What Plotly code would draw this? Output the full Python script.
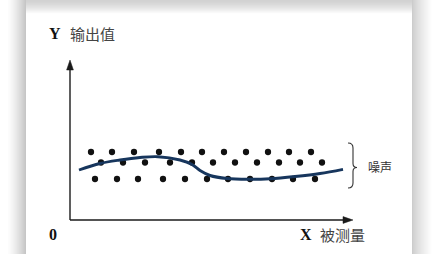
import plotly.graph_objects as go

# ---- data (measurand on x, sensor output on y; origin at the axes corner) ----
row_top_x = [21, 42, 64, 89, 111, 132, 154, 176, 198, 219, 241]
row_top_y = [68, 68, 68, 68, 68, 68, 68, 68, 68, 68, 68]
row_mid_x = [31, 53, 75, 100, 122, 143, 165, 187, 209, 230, 252]
row_mid_y = [57.5, 57.5, 57.5, 57.5, 57.5, 57.5, 57.5, 57.5, 57.5, 57.5, 57.5]
row_bot_x = [25, 47, 68, 93, 115, 137, 158, 180, 202, 223, 245]
row_bot_y = [41, 41, 41, 41, 41, 41, 41, 41, 41, 41, 41]

curve_x = [9, 30, 50, 70, 88, 110, 122, 130, 140, 157, 180, 200, 225, 250, 273]
curve_y = [50, 56.5, 60, 62.5, 63.3, 60, 55.5, 49.5, 44.5, 41.5, 40.8, 41.3, 43.5, 46.5, 50.7]

x_axis_end = 283
y_axis_end = 160

W, H = 444, 254
X_RANGE = [-70, 374]
Y_RANGE = [-34, 220]

fig = go.Figure()

# noisy readings
all_x = row_top_x + row_mid_x + row_bot_x
all_y = row_top_y + row_mid_y + row_bot_y
fig.add_trace(go.Scatter(
    x=all_x, y=all_y, mode="markers",
    marker=dict(size=6.3, color="#111111"),
    hoverinfo="skip", showlegend=False,
))

# underlying response curve
fig.add_trace(go.Scatter(
    x=curve_x, y=curve_y, mode="lines",
    line=dict(color="#17365d", width=2.9, shape="spline", smoothing=1.0),
    hoverinfo="skip", showlegend=False,
))

shapes = []


def px_rect(x0, y0, x1, y1, level):
    c = f"rgb({level},{level},{level})"
    return dict(type="rect", xref="paper", yref="paper",
                x0=x0 / W, x1=x1 / W, y0=1 - y1 / H, y1=1 - y0 / H,
                line=dict(width=0), fillcolor=c, layer="below")


# soft drop shadow around the white card
for i in range(14):
    py = i
    lvl = int(round(210 + (254 - 210) * (i / 13) ** 1.4))
    shapes.append(px_rect(16, py, 420, py + 1, lvl))
for i in range(18):
    px = 8 + i
    lvl = int(round(252 - (252 - 198) * (i / 17) ** 1.3))
    shapes.append(px_rect(px, 0, px + 1, H, lvl))
for i in range(20):
    px = 412 + i
    lvl = int(round(204 + (254 - 204) * (i / 19) ** 0.8))
    shapes.append(px_rect(px, 0, px + 1, H, lvl))

# axes lines
axis_col = "#1a1a1a"
shapes.append(dict(type="line", xref="x", yref="y", x0=0, y0=0, x1=x_axis_end - 8, y1=0,
                   line=dict(color=axis_col, width=1.4)))
shapes.append(dict(type="line", xref="x", yref="y", x0=0, y0=0, x1=0, y1=y_axis_end - 8,
                   line=dict(color=axis_col, width=1.4)))
# arrowheads
ah_len, ah_half = 10, 3.4
shapes.append(dict(type="path", xref="x", yref="y",
                   path=f"M {x_axis_end},0 L {x_axis_end - ah_len},{ah_half} L {x_axis_end - ah_len},{-ah_half} Z",
                   fillcolor=axis_col, line=dict(color=axis_col, width=0.5)))
shapes.append(dict(type="path", xref="x", yref="y",
                   path=f"M 0,{y_axis_end} L {ah_half},{y_axis_end - ah_len} L {-ah_half},{y_axis_end - ah_len} Z",
                   fillcolor=axis_col, line=dict(color=axis_col, width=0.5)))

# curly brace marking the noise band
band_top = max(row_top_y) + 9
band_bot = min(row_bot_y) - 9
band_mid = (band_top + band_bot) / 2 - 2
bx0, bx1, btip = 278, 283, 287
brace = (f"M {bx0},{band_top} Q {bx1},{band_top} {bx1},{band_top - 5} "
         f"L {bx1},{band_mid + 4} Q {bx1},{band_mid} {btip},{band_mid} "
         f"Q {bx1},{band_mid} {bx1},{band_mid - 4} "
         f"L {bx1},{band_bot + 5} Q {bx1},{band_bot} {bx0},{band_bot}")
shapes.append(dict(type="path", xref="x", yref="y", path=brace,
                   line=dict(color="#333333", width=1.1)))

serif = "Liberation Serif, Times New Roman, serif"
cjk = "Noto Sans CJK SC, sans-serif"

annotations = [
    dict(x=-23, y=187, text="<b>Y</b>", showarrow=False, xanchor="left", yanchor="middle",
         font=dict(family=serif, size=16, color="#111111")),
    dict(x=-2, y=187, text="输出值", showarrow=False, xanchor="left", yanchor="middle",
         font=dict(family=cjk, size=15, color="#444444")),
    dict(x=-17.5, y=-14, text="<b>0</b>", showarrow=False, xanchor="center", yanchor="middle",
         font=dict(family=serif, size=16, color="#111111")),
    dict(x=228, y=-14, text="<b>X</b>", showarrow=False, xanchor="left", yanchor="middle",
         font=dict(family=serif, size=16, color="#111111")),
    dict(x=248, y=-14, text="被测量", showarrow=False, xanchor="left", yanchor="middle",
         font=dict(family=cjk, size=15, color="#444444")),
    dict(x=296, y=band_mid + 1, text="噪声", showarrow=False, xanchor="left", yanchor="middle",
         font=dict(family=cjk, size=12, color="#333333")),
]

fig.update_layout(
    width=W, height=H,
    margin=dict(l=0, r=0, t=0, b=0),
    paper_bgcolor="white", plot_bgcolor="rgba(0,0,0,0)",
    xaxis=dict(range=X_RANGE, visible=False, domain=[0, 1], fixedrange=True),
    yaxis=dict(range=Y_RANGE, visible=False, domain=[0, 1], fixedrange=True),
    shapes=shapes, annotations=annotations,
    showlegend=False,
)

fig.write_html("out.html", config={"displayModeBar": False})
